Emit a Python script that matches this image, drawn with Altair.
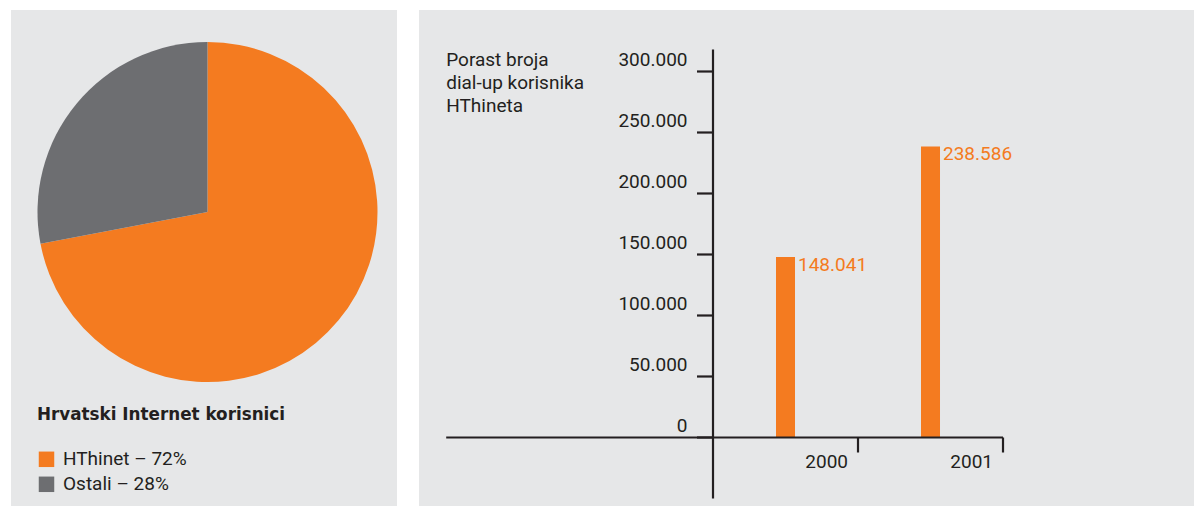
import altair as alt
import pandas as pd

# ---------------- data ----------------
pie_categories = ["HThinet", "Ostali"]
pie_shares = [72, 28]
pie_title = "Hrvatski Internet korisnici"

years = [2000, 2001]
users = [148041, 238586]

y_tick_values = [0, 50000, 100000, 150000, 200000, 250000, 300000]
x_tick_values = [2000.5, 2001.5]
x_tick_labels = ["2000", "2001"]
bar_title_lines = ["Porast broja", "dial-up korisnika", "HThineta"]

# ---------------- style / layout ----------------
ORANGE = "#f47b20"
GRAY = "#6d6e71"
PANEL = "#e6e7e8"
INK = "#231f20"
FONT = "Roboto"
FS = 19

AXIS_X = 1999.5                 # where the vertical axis crosses
Y_AXIS_EXTENT = (-50000, 318000)
X_AXIS_EXTENT = (1997.66, 2001.5)

def dotted(v):
    return f"{v:,}".replace(",", ".")

# ---------------- pie panel ----------------
pie_df = pd.DataFrame({"cat": pie_categories, "share": pie_shares})
pie_df["label"] = [f"{c} – {s}%" for c, s in zip(pie_categories, pie_shares)]

pie = alt.Chart(pie_df).mark_arc(outerRadius=170).encode(
    theta=alt.Theta("share:Q", stack=True),
    order=alt.Order("share:Q", sort="descending"),
    color=alt.Color(
        "label:N",
        scale=alt.Scale(domain=list(pie_df["label"]), range=[ORANGE, GRAY]),
        legend=alt.Legend(
            title=pie_title, orient="none", legendX=26, legendY=397,
            titleFont="DejaVu Sans", titleFontSize=16.8, titleFontWeight="bold", titleColor=INK,
            titlePadding=26, titleLimit=400,
            labelFont=FONT, labelFontSize=FS, labelColor=INK, labelLimit=300,
            labelOffset=7, symbolType="square", symbolSize=240, symbolStrokeWidth=0,
            symbolOpacity=1, rowPadding=5, padding=0,
        ),
    ),
    x=alt.value(196.5),
    y=alt.value(202),
).properties(width=386, height=496)

# ---------------- bar panel ----------------
x_scale = alt.Scale(domain=[1997.4724, 2002.8172], nice=False, zero=False, padding=0)
y_scale = alt.Scale(domain=[-56148, 350410], nice=False, zero=False, padding=0)

def X(f):
    return alt.X(f, type="quantitative", scale=x_scale, axis=None)

def Y(f):
    return alt.Y(f, type="quantitative", scale=y_scale, axis=None)

bar_df = pd.DataFrame({"year": years, "users": users})
bar_df["label"] = [dotted(v) for v in users]

bars = alt.Chart(bar_df).mark_bar(size=19, color=ORANGE).encode(
    x=X("year"), y=Y("users"), y2=alt.Y2(datum=0)
)
bar_labels = alt.Chart(bar_df).mark_text(
    align="left", baseline="top", dx=12.5, dy=-1, font=FONT, fontSize=FS, color=ORANGE
).encode(x=X("year"), y=Y("users"), text="label:N")

yaxis_df = pd.DataFrame({"x": [AXIS_X], "y": [Y_AXIS_EXTENT[0]], "y2": [Y_AXIS_EXTENT[1]]})
y_axis_line = alt.Chart(yaxis_df).mark_rule(color=INK, strokeWidth=2.2).encode(
    x=X("x"), y=Y("y"), y2="y2"
)
xaxis_df = pd.DataFrame({"x": [X_AXIS_EXTENT[0]], "x2": [X_AXIS_EXTENT[1]], "y": [0]})
x_axis_line = alt.Chart(xaxis_df).mark_rule(color=INK, strokeWidth=2.2).encode(
    x=X("x"), x2="x2", y=Y("y")
)

ytick_df = pd.DataFrame({"v": y_tick_values, "ax": [AXIS_X] * len(y_tick_values)})
ytick_df["label"] = [dotted(v) for v in y_tick_values]
y_ticks = alt.Chart(ytick_df).mark_rule(color=INK, strokeWidth=2.2, xOffset=-16).encode(
    x=X("ax"), x2="ax", y=Y("v")
)
y_tick_text = alt.Chart(ytick_df).mark_text(
    align="right", baseline="alphabetic", dx=-25.5, dy=-5.7, font=FONT, fontSize=FS, color=INK
).encode(x=X("ax"), y=Y("v"), text="label:N")

xtick_df = pd.DataFrame({"t": x_tick_values, "label": x_tick_labels, "zero": [0] * len(x_tick_values)})
x_ticks = alt.Chart(xtick_df).mark_rule(color=INK, strokeWidth=2.2, y2Offset=15).encode(
    x=X("t"), y=Y("zero"), y2="zero"
)
x_tick_text = alt.Chart(xtick_df).mark_text(
    align="right", baseline="alphabetic", dx=-10, dy=31, font=FONT, fontSize=FS, color=INK
).encode(x=X("t"), y=Y("zero"), text="label:N")

title_df = pd.DataFrame({"x": [X_AXIS_EXTENT[0]], "y": [max(y_tick_values)]})
bar_title = alt.Chart(title_df).mark_text(
    text=bar_title_lines, align="left", baseline="alphabetic", dy=-5.7,
    lineHeight=23.3, font=FONT, fontSize=FS, color=INK
).encode(x=X("x"), y=Y("y"))

bar_panel = alt.layer(
    bars, bar_labels, y_axis_line, x_axis_line, y_ticks, y_tick_text,
    x_ticks, x_tick_text, bar_title
).properties(width=775, height=496)

chart = alt.hconcat(pie, bar_panel, spacing=22).properties(
    padding={"left": 3, "top": 2, "right": 0, "bottom": 0},
    background="white",
    config=alt.Config(
        font=FONT,
        view=alt.ViewConfig(fill=PANEL, strokeWidth=0),
    ),
)

chart.save("out.html", embed_options={"renderer": "svg", "actions": False})
